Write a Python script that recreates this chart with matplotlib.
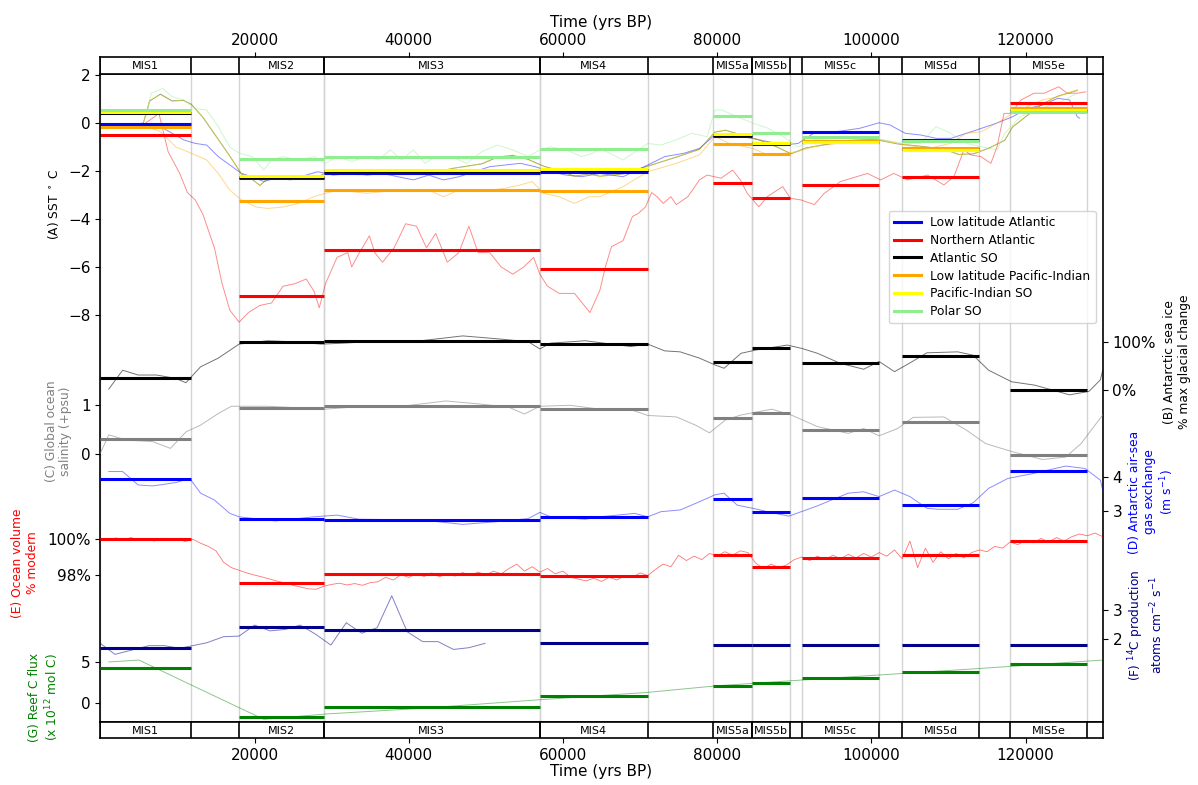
import matplotlib

matplotlib.use("Agg")
import matplotlib.pyplot as plt  # noqa: E402
import numpy as np  # noqa: E402
from matplotlib.lines import Line2D  # noqa: E402

W_PX, H_PX = 1198, 785

# ---- MIS windows (yrs BP) ----
mis_names = ["MIS1", "MIS2", "MIS3", "MIS4", "MIS5a", "MIS5b", "MIS5c", "MIS5d", "MIS5e"]
mis_start = [0, 18000, 29000, 57000, 79500, 84500, 91000, 104000, 118000]
mis_end = [11700, 29000, 57000, 71000, 84500, 89500, 101000, 114000, 128000]

# ---- (A) SST, window means (deg C) ----
sst_names = ["Low latitude Atlantic", "Northern Atlantic", "Atlantic SO",
             "Low latitude Pacific-Indian", "Pacific-Indian SO", "Polar SO"]
sst_colors = ["blue", "red", "black", "orange", "yellow", "lightgreen"]
sst_lla_mean = [-0.06, -2.28, -2.08, -2.03, -0.54, -0.86, -0.36, -0.70, 0.52]
sst_na_mean = [-0.50, -7.21, -5.31, -6.07, -2.49, -3.14, -2.58, -2.25, 0.82]
sst_aso_mean = [0.42, -2.25, -2.00, -1.96, -0.48, -0.84, -0.80, -1.10, 0.53]
sst_llpi_mean = [-0.15, -3.26, -2.79, -2.83, -0.87, -1.29, -0.76, -1.04, 0.61]
sst_pis_mean = [0.44, -2.19, -1.97, -1.93, -0.46, -0.82, -0.79, -1.12, 0.54]
sst_pso_mean = [0.54, -1.51, -1.42, -1.10, 0.29, -0.40, -0.57, -0.73, 0.44]

# ---- (A) SST records (kyr BP, deg C) ----
sst_lla_t = [5.4, 7.8, 10.8, 12.3, 13.8, 15.3, 16.8, 18.3, 19.7, 21.2,
             22.7, 24.7, 26.7, 28.2, 30.2, 32.6, 34.6, 36.6, 38.6, 40.6,
             42.6, 44.5, 46.5, 48.5, 50.5, 52.5, 54.5, 56.4, 58.4, 60.4,
             62.4, 64.8, 67.8, 71.0, 73.2, 75.7, 77.7, 79.7, 82.6, 84.6,
             86.6, 88.6, 90.5, 92.5, 95.5, 98.5, 101.0, 102.4, 104.4, 106.4,
             108.4, 110.3, 112.3, 114.3, 116.3, 118.3, 120.2, 122.2, 124.2, 125.7,
             126.7, 127.0]
sst_lla_v = [0.0, -0.15, -0.7, -0.85, -0.92, -1.4, -1.75, -2.1, -2.24, -2.44,
             -2.3, -2.37, -2.17, -2.03, -2.17, -2.1, -2.17, -2.1, -2.24, -2.37,
             -2.17, -2.37, -2.24, -2.03, -1.82, -1.75, -1.68, -1.82, -2.03, -2.17,
             -2.24, -2.1, -2.24, -1.75, -1.4, -1.26, -1.06, -0.5, -0.54, -0.64,
             -0.78, -0.92, -0.85, -0.43, -0.36, -0.22, 0.01, -0.08, -0.43, -0.5,
             -0.64, -0.64, -0.43, -0.22, 0.0, 0.26, 0.6, 0.75, 1.03, 0.96,
             0.26, 0.2]

sst_na_t = [5.9, 7.6, 8.8, 10.3, 11.3, 12.3, 13.3, 14.8, 15.8, 16.8,
            18.0, 19.2, 20.7, 22.2, 23.7, 25.2, 26.7, 27.7, 28.4, 29.2,
            30.7, 32.1, 32.6, 33.6, 34.9, 35.6, 36.6, 38.1, 39.6, 41.0,
            42.3, 43.5, 45.0, 46.5, 47.8, 49.0, 50.5, 52.0, 53.5, 54.9,
            56.2, 57.0, 58.0, 59.5, 61.5, 62.5, 63.5, 64.8, 65.5, 66.3,
            67.8, 69.0, 69.8, 70.7, 71.5, 72.2, 73.0, 74.0, 74.7, 76.2,
            77.7, 78.7, 80.5, 82.0, 83.0, 83.9, 85.4, 86.5, 88.5, 89.5,
            90.8, 92.6, 93.9, 96.0, 99.5, 101.2, 102.9, 104.7, 107.3, 109.4,
            110.7, 112.0, 112.9, 114.2, 115.5, 116.3, 117.2, 118.1, 119.4, 121.1,
            122.4, 124.3, 125.4, 126.7, 127.8]
sst_na_v = [0.0, 0.4, -1.2, -2.1, -2.9, -3.2, -3.8, -5.2, -6.7, -7.8,
            -8.3, -7.9, -7.6, -7.5, -6.8, -6.7, -6.5, -7.0, -7.7, -6.7,
            -5.6, -5.4, -6.0, -5.4, -4.7, -5.4, -5.8, -5.2, -4.2, -4.3,
            -5.2, -4.6, -5.8, -5.4, -4.3, -5.4, -5.4, -6.0, -6.3, -6.0,
            -5.6, -6.3, -6.8, -7.1, -7.1, -7.5, -7.9, -6.96, -6.0, -5.15,
            -4.9, -3.9, -3.76, -3.5, -2.9, -3.07, -3.35, -3.07, -3.4, -3.07,
            -2.37, -2.17, -2.3, -1.96, -2.37, -2.93, -3.49, -3.07, -2.65, -3.14,
            -3.2, -3.4, -2.93, -2.44, -2.1, -2.37, -2.1, -2.37, -2.17, -2.58,
            -2.24, -1.12, -1.33, -1.4, -1.68, -0.99, 0.4, 0.4, 0.96, 1.24,
            1.24, 1.51, 1.24, 1.24, 1.3]

sst_llpi_t = [5.4, 7.8, 9.8, 11.8, 13.8, 15.3, 16.8, 18.3, 20.2, 21.7,
              23.7, 25.7, 27.7, 29.2, 30.7, 32.6, 34.6, 36.6, 38.6, 40.6,
              42.6, 44.5, 46.5, 48.5, 50.5, 52.5, 54.5, 56.0, 57.5, 59.5,
              61.5, 63.4, 64.8, 67.8, 71.0, 74.7, 77.7, 79.7, 81.6, 84.6,
              86.6, 88.6, 90.5, 92.5, 95.5, 98.5, 101.4, 104.4, 107.4, 110.3,
              112.3, 114.3, 116.3, 118.3, 120.2, 122.2, 124.2, 126.7]
sst_llpi_v = [-0.08, -0.36, -1.0, -1.26, -1.54, -2.1, -2.8, -3.2, -3.5, -3.56,
              -3.5, -3.35, -3.07, -2.93, -2.8, -2.86, -2.93, -2.86, -2.8, -2.86,
              -2.8, -3.07, -2.8, -2.86, -2.8, -2.72, -2.58, -2.44, -2.93, -3.07,
              -3.35, -3.07, -3.07, -2.65, -2.03, -1.68, -1.33, -0.57, -0.85, -1.06,
              -1.33, -1.26, -1.19, -0.99, -0.85, -0.7, -0.7, -0.92, -1.06, -0.85,
              -0.43, -0.36, 0.0, 0.4, 0.68, 0.96, 1.1, 1.38]

sst_pis_t = [5.6, 6.4, 7.8, 9.3, 10.8, 11.8, 13.3, 14.8, 16.8, 18.3,
             19.7, 20.7, 21.7, 23.7, 25.7, 28.2, 29.7, 31.6, 33.6, 35.6,
             37.6, 39.6, 41.6, 43.5, 45.5, 47.5, 49.5, 51.5, 53.5, 55.5,
             57.5, 59.5, 61.5, 63.4, 64.8, 67.8, 71.0, 74.7, 77.7, 79.7,
             81.1, 83.6, 85.6, 87.6, 89.6, 91.5, 94.5, 97.5, 100.4, 103.4,
             106.4, 109.4, 111.3, 113.3, 115.3, 117.3, 118.3, 120.2, 122.2, 124.2,
             126.7]
sst_pis_v = [0.0, 0.96, 1.17, 0.89, 0.96, 0.75, 0.26, -0.43, -1.4, -2.1,
             -2.37, -2.58, -2.3, -2.24, -2.3, -2.24, -1.96, -2.1, -2.17, -2.1,
             -2.17, -2.1, -2.03, -2.1, -1.89, -1.82, -1.68, -1.4, -1.33, -1.54,
             -1.82, -1.96, -2.24, -2.1, -2.24, -2.1, -1.82, -1.4, -1.12, -0.36,
             -0.29, -0.57, -0.7, -1.0, -1.26, -1.06, -0.85, -0.7, -0.7, -0.85,
             -0.99, -1.06, -1.33, -1.26, -1.06, -0.7, -0.15, 0.33, 0.82, 1.1,
             1.38]

sst_aso_t = [5.6, 6.4, 7.8, 9.3, 10.8, 11.8, 13.3, 14.8, 16.8, 18.3,
             19.7, 20.7, 21.7, 23.7, 25.7, 28.2, 29.7, 31.6, 33.6, 35.6,
             37.6, 39.6, 41.6, 43.5, 45.5, 47.5, 49.5, 51.5, 53.5, 55.5,
             57.5, 59.5, 61.5, 63.4, 64.8, 67.8, 71.0, 74.7, 77.7, 79.7,
             81.1, 83.6, 85.6, 87.6, 89.6, 91.5, 94.5, 97.5, 100.4, 103.4,
             106.4, 109.4, 111.3, 113.3, 115.3, 117.3, 118.3, 120.2, 122.2, 124.2,
             126.7]
sst_aso_v = [0.02, 0.92, 1.2, 0.92, 0.94, 0.78, 0.24, -0.45, -1.38, -2.12,
             -2.35, -2.6, -2.32, -2.22, -2.28, -2.26, -1.98, -2.08, -2.15, -2.12,
             -2.15, -2.12, -2.05, -2.08, -1.9, -1.8, -1.7, -1.42, -1.35, -1.52,
             -1.8, -1.98, -2.22, -2.12, -2.22, -2.12, -1.8, -1.42, -1.1, -0.38,
             -0.3, -0.55, -0.72, -0.98, -1.28, -1.04, -0.87, -0.72, -0.68, -0.87,
             -0.97, -1.08, -1.31, -1.28, -1.04, -0.72, -0.17, 0.31, 0.8, 1.12,
             1.36]

sst_pso_t = [6.0, 6.6, 8.1, 9.3, 10.8, 12.3, 13.8, 15.3, 16.8, 18.0,
             19.7, 21.2, 22.2, 23.7, 25.7, 27.7, 29.2, 30.7, 32.6, 34.6,
             36.1, 37.6, 39.1, 40.6, 42.1, 43.5, 45.5, 47.5, 49.5, 51.5,
             53.5, 55.5, 57.0, 58.4, 60.4, 62.4, 63.9, 64.8, 67.8, 71.0,
             72.7, 74.7, 76.7, 78.7, 79.7, 80.6, 82.6, 84.6, 86.6, 88.6,
             90.5, 92.5, 95.5, 98.5, 101.4, 104.4, 106.4, 108.4, 110.3, 112.3,
             114.3, 116.3, 117.3, 119.3, 121.2, 124.2, 126.7]
sst_pso_v = [0.3, 1.24, 1.44, 1.1, 0.96, 0.6, 0.54, -0.15, -1.0, -1.26,
             -1.4, -1.96, -1.54, -1.4, -1.54, -1.4, -1.68, -1.4, -1.6, -1.4,
             -1.54, -1.12, -1.54, -1.12, -1.68, -1.4, -1.4, -1.68, -1.19, -0.92,
             -1.12, -1.4, -1.12, -0.99, -1.12, -1.4, -1.26, -1.06, -1.54, -0.85,
             -0.92, -0.7, -0.43, -0.57, 0.54, 0.54, 0.26, 0.0, -0.22, -0.57,
             -1.0, -0.7, -0.64, -0.57, -0.7, -0.85, -0.85, -0.15, -0.43, -0.85,
             -0.99, -1.12, -0.43, 0.26, 0.54, 0.82, 1.24]

# ---- (B) Antarctic sea ice, % of max glacial change ----
ice_mean = [24, 99.4, 102, 96, 58.6, 86, 56, 71, 0]
ice_t = [1.1, 2.9, 4.9, 7.3, 9.8, 11.1, 13.0, 15.3, 18.0, 21.7,
         24.7, 28.7, 31.6, 36.6, 41.6, 47.0, 51.5, 55.5, 57.0, 58.4,
         62.9, 64.8, 68.8, 71.0, 73.2, 75.2, 77.7, 79.7, 80.9, 83.1,
         85.1, 89.1, 91.0, 93.0, 96.0, 99.0, 101.0, 103.0, 105.0, 107.2,
         111.2, 113.2, 115.2, 118.2, 121.2, 125.7, 128.2, 129.7, 130.0]
ice_v = [2, 41, 31, 31, 24, 15, 48, 66, 95, 102,
         100, 95, 97, 102, 102, 112, 106, 100, 85, 97,
         102, 98, 90, 95, 81, 79, 66, 52, 45, 76,
         83, 93, 86, 76, 55, 43, 59, 38, 56, 77,
         79, 72, 41, 17, 10, -10, -3, 21, 41]
ice_ticks = [0, 100]

# ---- (C) global ocean salinity anomaly (psu) ----
sal_mean = [0.30, 0.95, 0.98, 0.92, 0.73, 0.85, 0.49, 0.65, -0.02]
sal_t = [0.0, 1.1, 3.4, 6.8, 9.1, 11.1, 13.0, 15.3, 17.0, 21.7,
         26.7, 29.2, 34.1, 39.1, 44.8, 49.0, 53.0, 55.0, 57.0, 60.9,
         64.8, 68.8, 71.0, 74.7, 77.2, 79.0, 81.1, 83.1, 87.1, 89.6,
         93.0, 97.0, 99.0, 101.0, 103.4, 105.4, 109.4, 112.3, 114.8, 118.3,
         122.2, 125.2, 127.2, 130.0]
sal_v = [0.01, 0.39, 0.28, 0.25, 0.11, 0.45, 0.59, 0.83, 0.98, 0.98,
         0.94, 0.92, 0.98, 0.98, 1.09, 1.03, 0.96, 0.82, 0.98, 1.0,
         0.92, 0.91, 0.79, 0.76, 0.59, 0.43, 0.70, 0.80, 0.92, 0.80,
         0.56, 0.42, 0.52, 0.37, 0.52, 0.75, 0.76, 0.49, 0.21, 0.04,
         -0.12, -0.07, 0.21, 0.80]
sal_ticks = [0, 1]

# ---- (D) Antarctic air-sea gas exchange (m s-1) ----
gas_mean = [3.93, 2.76, 2.74, 2.83, 3.35, 2.96, 3.39, 3.17, 4.17]
gas_t = [1.1, 2.9, 4.9, 6.8, 9.8, 11.6, 13.0, 14.8, 16.8, 18.0,
         22.7, 27.7, 30.7, 33.6, 41.6, 47.0, 51.5, 55.5, 57.0, 58.4,
         62.9, 64.8, 69.3, 71.0, 72.7, 75.2, 77.7, 79.7, 80.9, 82.6,
         84.6, 87.1, 89.3, 93.0, 97.0, 99.0, 101.0, 103.0, 105.0, 107.2,
         108.6, 111.2, 113.2, 115.2, 117.7, 120.7, 125.2, 127.7, 129.7, 130.0]
gas_v = [4.15, 4.15, 3.76, 3.73, 3.83, 3.95, 3.52, 3.32, 2.93, 2.83,
         2.71, 2.83, 2.88, 2.76, 2.74, 2.61, 2.69, 2.78, 2.96, 2.83,
         2.76, 2.83, 2.93, 2.83, 2.98, 3.03, 3.27, 3.47, 3.52, 3.17,
         3.08, 2.95, 2.85, 3.15, 3.52, 3.56, 3.42, 3.61, 3.42, 3.08,
         3.05, 3.05, 3.24, 3.66, 3.95, 4.08, 4.31, 4.24, 3.90, 3.61]
gas_ticks = [3, 4]

# ---- (E) ocean volume, % modern ----
vol_mean = [100.0, 97.51, 98.02, 97.95, 99.11, 98.42, 98.93, 99.10, 99.90]
vol_t = list(range(0, 131))
vol_v = [100.05, 99.95, 100.08, 99.97, 100.1, 99.93, 100.04, 99.9, 100.06, 99.92,
         100.02, 99.88, 100.0, 99.78, 99.6, 99.35, 98.7, 98.4, 98.25, 98.1,
         97.98, 97.87, 97.75, 97.63, 97.52, 97.4, 97.3, 97.2, 97.18, 97.35,
         97.45, 97.52, 97.42, 97.5, 97.4, 97.55, 97.6, 97.85, 97.7, 98.0,
         97.85, 98.05, 97.9, 98.1, 97.88, 98.08, 97.92, 98.12, 97.95, 98.15,
         97.98, 98.2, 98.05, 98.35, 98.6, 98.2, 98.45, 98.15, 98.35, 98.05,
         98.2, 97.85, 97.75, 97.65, 97.8, 97.62, 97.85, 97.7, 97.95, 97.85,
         98.1, 97.95, 98.3, 98.6, 98.45, 99.1, 98.8, 99.05, 98.85, 99.2,
         99.05, 99.3, 99.1, 99.35, 99.25, 98.65, 98.35, 98.6, 98.4, 98.55,
         98.85, 99.0, 98.8, 99.05, 98.85, 99.1, 98.9, 99.15, 98.95, 99.2,
         99.0, 99.25, 99.05, 99.4, 98.9, 99.9, 98.4, 99.5, 98.7, 99.3,
         98.9, 99.2, 98.95, 99.25, 99.4, 99.3, 99.6, 99.5, 99.85, 99.7,
         99.95, 99.8, 100.05, 99.85, 100.1, 99.9, 100.15, 100.3, 100.2, 100.35,
         100.15]
vol_ticks = [98, 100]

# ---- (F) 14C production (atoms cm-2 s-1) ----
c14_mean = [1.68, 2.41, 2.30, 1.87, 1.78, 1.78, 1.78, 1.78, 1.78]
c14_t = [0.0, 1.9, 6.3, 8.3, 10.3, 13.8, 16.0, 18.0, 20.0, 22.0,
         24.0, 25.9, 27.9, 29.9, 31.9, 33.9, 35.9, 37.8, 39.8, 41.8,
         43.8, 45.8, 47.8, 49.9]
c14_v = [1.85, 1.47, 1.77, 1.77, 1.68, 1.87, 2.08, 2.10, 2.48, 2.28,
         2.33, 2.48, 2.17, 1.79, 2.56, 2.20, 2.39, 3.49, 2.25, 1.91,
         1.91, 1.64, 1.70, 1.85]
c14_ticks = [2, 3]

# ---- (G) reef carbon flux (x1e12 mol C) ----
reef_mean = [4.33, -1.73, -0.57, 0.83, 2.07, 2.40, 3.02, 3.84, 4.79]
reef_t = [1.1, 5.0, 11.8, 21.2, 29.2, 41.6, 56.4, 71.0, 79.7, 89.6, 101.0, 114.3, 130.0]
reef_v = [5.04, 5.28, 2.19, -2.06, -1.4, -0.7, 0.33, 1.28, 2.07, 2.72, 3.43, 4.25, 5.28]
reef_ticks = [0, 5]

sst_ticks = [-8, -6, -4, -2, 0, 2]
time_ticks = [20000, 40000, 60000, 80000, 100000, 120000]

# ---- layout (pixels of the 1198x785 canvas) ----
X0, X1 = 100.3, 1102.7
STRIP_TOP0 = 57.3
MAIN_TOP, MAIN_BOT = 73.7, 722.3
STRIP_BOT1 = 738.3
XMAX = 130000
TICK_FS = 11
LABEL_FS = 8.8


def px_rect(x0, y0, x1, y1):
    return [x0 / W_PX, 1 - y1 / H_PX, (x1 - x0) / W_PX, (y1 - y0) / H_PX]


def ylim_from_ticks(v_a, p_a, v_b, p_b):
    # two tick values and their pixel rows -> ylim for the main panel
    s = (p_b - p_a) / (v_a - v_b)
    return v_a - (MAIN_BOT - p_a) / s, v_a + (p_a - MAIN_TOP) / s


def kyr(t):
    return np.asarray(t) * 1000.0


fig = plt.figure(figsize=(W_PX / 100, H_PX / 100), dpi=100)
ax = fig.add_axes(px_rect(X0, MAIN_TOP, X1, MAIN_BOT))
ax_top = fig.add_axes(px_rect(X0, STRIP_TOP0, X1, MAIN_TOP))
ax_bot = fig.add_axes(px_rect(X0, MAIN_BOT, X1, STRIP_BOT1))

# MIS strips
for s_ax in (ax_top, ax_bot):
    s_ax.set_xlim(0, XMAX)
    s_ax.set_ylim(0, 1)
    s_ax.set_yticks([])
    for a, b, name in zip(mis_start, mis_end, mis_names):
        s_ax.axvline(a, color="black", lw=1.2)
        s_ax.axvline(b, color="black", lw=1.2)
        s_ax.text((a + b) / 2, 0.45, name, ha="center", va="center", fontsize=8)
    s_ax.set_xticks(time_ticks)
    s_ax.tick_params(axis="x", labelsize=TICK_FS)
    for sp in s_ax.spines.values():
        sp.set_linewidth(1.2)
ax_top.xaxis.tick_top()
ax_top.xaxis.set_label_position("top")
ax_top.set_xlabel("Time (yrs BP)", fontsize=TICK_FS)
ax_bot.set_xlabel("Time (yrs BP)", fontsize=TICK_FS, labelpad=1)

ax.set_xlim(0, XMAX)
ax.tick_params(axis="x", bottom=False, labelbottom=False)
for sp in ax.spines.values():
    sp.set_linewidth(1.2)
for a, b in zip(mis_start, mis_end):
    ax.axvline(a, color="#d3d3d3", lw=1, zorder=0)
    ax.axvline(b, color="#d3d3d3", lw=1, zorder=0)

THIN = dict(lw=0.7, alpha=0.45)
THICK = 2.2

# (A) SST
sst_t = [sst_lla_t, sst_na_t, sst_aso_t, sst_llpi_t, sst_pis_t, sst_pso_t]
sst_v = [sst_lla_v, sst_na_v, sst_aso_v, sst_llpi_v, sst_pis_v, sst_pso_v]
sst_m = [sst_lla_mean, sst_na_mean, sst_aso_mean, sst_llpi_mean, sst_pis_mean, sst_pso_mean]
for t, v, c in zip(sst_t, sst_v, sst_colors):
    ax.plot(kyr(t), v, color=c, **THIN)
for m, c in zip(sst_m, sst_colors):
    ax.hlines(m, mis_start, mis_end, colors=c, lw=THICK)
ax.set_ylim(*ylim_from_ticks(2, 75.0, -8, 315.0))
ax.set_yticks(sst_ticks)
ax.tick_params(axis="y", labelsize=TICK_FS)


def twin(side):
    a = ax.twinx()
    a.set_xlim(0, XMAX)
    for sp in a.spines.values():
        sp.set_visible(False)
    if side == "left":
        a.yaxis.set_ticks_position("left")
        a.yaxis.set_label_position("left")
    a.tick_params(axis="y", labelsize=TICK_FS)
    return a


def put_label(a, text, color, cx, cy):
    a.set_ylabel(text, color=color, fontsize=LABEL_FS, ha="center", va="center",
                 multialignment="center")
    a.yaxis.set_label_coords(cx / W_PX, 1 - cy / H_PX, transform=fig.transFigure)


put_label(ax, r"(A) SST $^\circ$ C", "black", 53.5, 204)

# (B) sea ice
axB = twin("right")
axB.plot(kyr(ice_t), ice_v, color="black", lw=0.7, alpha=0.55)
axB.hlines(ice_mean, mis_start, mis_end, colors="black", lw=THICK)
axB.set_ylim(*ylim_from_ticks(100, 341.7, 0, 390.0))
axB.set_yticks(ice_ticks, [f"{t}%" for t in ice_ticks])
put_label(axB, "(B) Antarctic sea ice\n% max glacial change", "black", 1177, 362)

# (C) salinity
axC = twin("left")
axC.plot(kyr(sal_t), sal_v, color="grey", lw=0.7, alpha=0.55)
axC.hlines(sal_mean, mis_start, mis_end, colors="grey", lw=THICK)
axC.set_ylim(*ylim_from_ticks(1, 405.3, 0, 453.7))
axC.set_yticks(sal_ticks)
put_label(axC, "(C) Global ocean\nsalinity (+psu)", "grey", 58.5, 431)

# (D) gas exchange
axD = twin("right")
axD.plot(kyr(gas_t), gas_v, color="blue", **THIN)
axD.hlines(gas_mean, mis_start, mis_end, colors="blue", lw=THICK)
axD.set_ylim(*ylim_from_ticks(4, 476.7, 3, 511.0))
axD.set_yticks(gas_ticks)
put_label(axD, "(D) Antarctic air-sea\ngas exchange\n(m s$^{-1}$)", "blue", 1152, 492)

# (E) ocean volume
axE = twin("left")
axE.plot(kyr(vol_t), vol_v, color="red", lw=0.6, alpha=0.55)
axE.hlines(vol_mean, mis_start, mis_end, colors="red", lw=THICK)
axE.set_ylim(*ylim_from_ticks(100, 539.3, 98, 574.7))
axE.set_yticks(vol_ticks, [f"{t}%" for t in vol_ticks])
put_label(axE, "(E) Ocean volume\n% modern", "red", 25, 563)

# (F) 14C production
axF = twin("right")
axF.plot(kyr(c14_t), c14_v, color="darkblue", lw=0.7, alpha=0.5)
axF.hlines(c14_mean, mis_start, mis_end, colors="darkblue", lw=THICK)
axF.set_ylim(*ylim_from_ticks(3, 610.0, 2, 639.0))
axF.set_yticks(c14_ticks)
put_label(axF, "(F) $^{14}$C production\natoms cm$^{-2}$ s$^{-1}$", "darkblue", 1146, 625)

# (G) reef carbon flux
axG = twin("left")
axG.plot(kyr(reef_t), reef_v, color="green", lw=0.7, alpha=0.45)
axG.hlines(reef_mean, mis_start, mis_end, colors="green", lw=THICK)
axG.set_ylim(*ylim_from_ticks(5, 662.3, 0, 702.7))
axG.set_yticks(reef_ticks)
put_label(axG, "(G) Reef C flux\n(x 10$^{12}$ mol C)", "green", 44.5, 697)

handles = [Line2D([], [], color=c, lw=2.2) for c in sst_colors]
leg = axG.legend(handles, sst_names, loc="upper right", fontsize=LABEL_FS,
                 labelspacing=0.4, handlelength=2.2,
                 bbox_to_anchor=((1095.5 - X0) / (X1 - X0), (MAIN_BOT - 211.0) / (MAIN_BOT - MAIN_TOP)),
                 borderaxespad=0)
leg.set_zorder(10)

fig.savefig("out.png", dpi=100)
